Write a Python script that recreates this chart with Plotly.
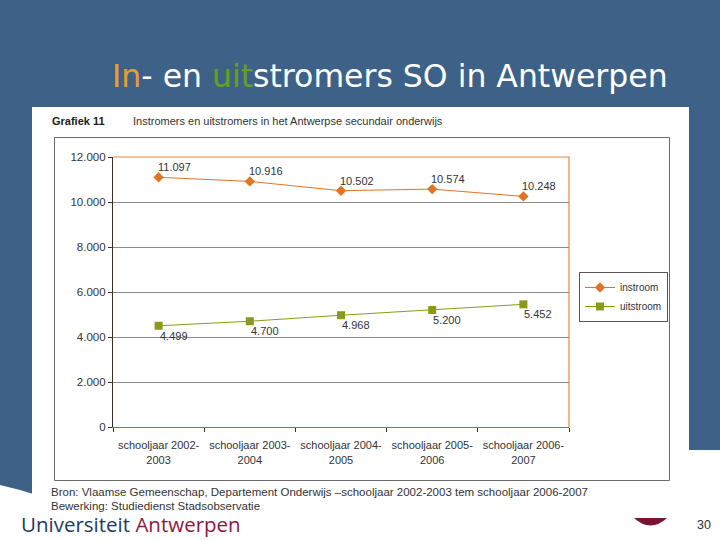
import plotly.graph_objects as go

# ---- data ----
categories = ["schooljaar 2002-2003", "schooljaar 2003-2004", "schooljaar 2004-2005",
              "schooljaar 2005-2006", "schooljaar 2006-2007"]
tick_labels = ["schooljaar 2002-<br>2003", "schooljaar 2003-<br>2004", "schooljaar 2004-<br>2005",
               "schooljaar 2005-<br>2006", "schooljaar 2006-<br>2007"]
instroom = [11097, 10916, 10502, 10574, 10248]
uitstroom = [4499, 4700, 4968, 5200, 5452]
y_ticks = [0, 2000, 4000, 6000, 8000, 10000, 12000]

# ---- geometry helpers (pixel -> paper) ----
W, H = 720, 540
L, T, R, B = 113, 157, 569, 427
def X(px):
    return (px - L) / (R - L)
def Y(py):
    return (B - py) / (B - T)

BLUE = "#3E6188"
ORANGE = "#E07424"
OLIVE = "#8C9A1A"

fig = go.Figure()
fig.add_trace(go.Scatter(x=categories, y=instroom, name="instroom", mode="lines+markers",
                         line=dict(color=ORANGE, width=1),
                         marker=dict(symbol="diamond", size=8, color=ORANGE)))
fig.add_trace(go.Scatter(x=categories, y=uitstroom, name="uitstroom", mode="lines+markers",
                         line=dict(color=OLIVE, width=1),
                         marker=dict(symbol="square", size=8, color=OLIVE)))

def fmt(v):
    return f"{v:,}".replace(",", ".")

ann = []
for c, v in zip(categories, instroom):
    ann.append(dict(x=c, y=v, xref="x", yref="y", text=fmt(v), showarrow=False,
                    xshift=16, yshift=10, font=dict(size=11, color="#333", family="Liberation Sans")))
for c, v in zip(categories, uitstroom):
    ann.append(dict(x=c, y=v, xref="x", yref="y", text=fmt(v), showarrow=False,
                    xshift=15, yshift=-10, font=dict(size=11, color="#333", family="Liberation Sans")))

# slide texts
ann.append(dict(xref="paper", yref="paper", x=X(110), y=Y(76), xanchor="left", yanchor="middle",
                showarrow=False,
                text="<span style='color:#E8A030'>In</span>- en <span style='color:#66A020'>uit</span>stromers SO in Antwerpen",
                font=dict(family="DejaVu Sans", size=31.5, color="white")))
ann.append(dict(xref="paper", yref="paper", x=X(50), y=Y(121), xanchor="left", yanchor="middle",
                showarrow=False, text="<b>Grafiek 11</b>",
                font=dict(family="Liberation Sans", size=11, color="#222")))
ann.append(dict(xref="paper", yref="paper", x=X(131), y=Y(121), xanchor="left", yanchor="middle",
                showarrow=False, text="Instromers en uitstromers in het Antwerpse secundair onderwijs",
                font=dict(family="Liberation Sans", size=11, color="#333")))
ann.append(dict(xref="paper", yref="paper", x=X(49), y=Y(492), xanchor="left", yanchor="middle",
                showarrow=False,
                text="Bron: Vlaamse Gemeenschap, Departement Onderwijs \u2013schooljaar 2002-2003 tem schooljaar 2006-2007",
                font=dict(family="Liberation Sans", size=11.5, color="#333")))
ann.append(dict(xref="paper", yref="paper", x=X(49), y=Y(506), xanchor="left", yanchor="middle",
                showarrow=False, text="Bewerking: Studiedienst Stadsobservatie",
                font=dict(family="Liberation Sans", size=11.5, color="#333")))
ann.append(dict(xref="paper", yref="paper", x=X(19), y=Y(524), xanchor="left", yanchor="middle",
                showarrow=False,
                text="<span style='color:#1E3A5C'>Universiteit</span> <span style='color:#8A1A3C'>Antwerpen</span>",
                font=dict(family="Open Sans", size=20.5, color="#1E3A5C")))
ann.append(dict(xref="paper", yref="paper", x=X(713), y=Y(525), xanchor="right", yanchor="middle",
                showarrow=False, text="30",
                font=dict(family="Liberation Sans", size=12.5, color="#333")))

def path_px(pts, close=True):
    s = "M " + " L ".join(f"{X(a):.5f},{Y(b):.5f}" for a, b in pts)
    return s + (" Z" if close else "")

shapes = []
# blue slide background (top, left swoosh, right strip)
shapes.append(dict(type="path", xref="paper", yref="paper", layer="below",
                   path=path_px([(0, 0), (720, 0), (720, 450), (40, 450), (40, 496), (20, 490), (0, 485)]),
                   fillcolor=BLUE, line=dict(width=0)))
# white image area
shapes.append(dict(type="rect", xref="paper", yref="paper", layer="below",
                   x0=X(32), x1=X(689), y0=Y(107), y1=Y(516),
                   fillcolor="white", line=dict(width=0)))
# chart frame
shapes.append(dict(type="rect", xref="paper", yref="paper", layer="below",
                   x0=X(54.5), x1=X(669.5), y0=Y(137.5), y1=Y(480.5),
                   fillcolor="rgba(0,0,0,0)", line=dict(color="#6a6a6a", width=1)))
# top & right plot border (orange)
shapes.append(dict(type="path", xref="paper", yref="paper", layer="above",
                   path="M 0,1 L 1,1 L 1,0",
                   line=dict(color="#E88840", width=1.2)))
# red logo piece
shapes.append(dict(type="path", xref="paper", yref="paper", layer="above",
                   path=f"M {X(634)},{Y(518)} L {X(667)},{Y(518)} Q {X(650.5)},{Y(533)} {X(634)},{Y(518)} Z",
                   fillcolor="#7B1232", line=dict(width=0)))

fig.update_layout(
    width=W, height=H,
    margin=dict(l=L, r=W - R, t=T, b=H - B, autoexpand=False),
    paper_bgcolor="white", plot_bgcolor="rgba(0,0,0,0)",
    separators=",.",
    showlegend=True,
    legend=dict(x=X(579), y=Y(272), xanchor="left", yanchor="top",
                bgcolor="white", bordercolor="#555", borderwidth=1,
                font=dict(family="Liberation Sans", size=10, color="#333"),
                itemwidth=30, tracegroupgap=0),
    xaxis=dict(type="category", categoryarray=categories, range=[-0.5, 4.5],
               tickmode="array", tickvals=categories, ticktext=tick_labels,
               tickson="boundaries", ticks="outside", ticklen=4, tickcolor="#333",
               ticklabelstandoff=8,
               showgrid=False, showline=True, linecolor="#C0601A", linewidth=1.3,
               tickfont=dict(family="Liberation Sans", size=11, color="#333"), zeroline=False),
    yaxis=dict(range=[0, 12000], tickmode="array", tickvals=y_ticks, tickformat=",.0f",
               ticks="outside", ticklen=4, tickcolor="#333",
               showgrid=True, gridcolor="#8c8c8c", gridwidth=1,
               showline=True, linecolor="#3b2e25", linewidth=1.2, zeroline=False,
               tickfont=dict(family="Liberation Sans", size=11.5, color="#333")),
    annotations=ann, shapes=shapes,
    font=dict(family="Liberation Sans"),
)

fig.write_html("out.html", config={"displayModeBar": False},
               post_script="document.body.style.margin='0';document.body.style.overflow='hidden';")
